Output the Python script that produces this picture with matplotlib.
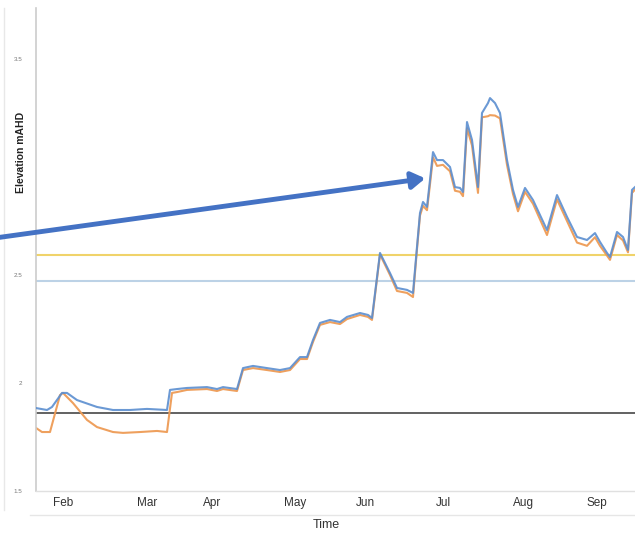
import matplotlib
matplotlib.use("Agg")
import matplotlib.pyplot as plt
from matplotlib.lines import Line2D
from matplotlib.patches import FancyArrowPatch

# ---- data (day index from start of record, elevation mAHD) ----
blue_days = [0, 4.4, 6.4, 10.4, 12.4, 16.4, 24.4, 30.8, 37.6, 44.4, 52.4, 53.6, 56.4,
             60.4, 68.4, 72.4, 74.8, 80.4, 82.8, 86.8, 92.4, 97.6, 101.6, 105.6, 108.4,
             110.8, 113.6, 117.6, 121.6, 124.4, 129.6, 132.8, 134.4, 137.6, 141.6, 144.4,
             148.4, 150.8, 152.4, 153.6, 154.8, 156.4, 157.6, 158.8, 160.4, 162.8, 165.6,
             167.6, 169.6, 170.8, 172.4, 174.4, 176.8, 178.4, 180.8, 181.6, 183.6, 185.6,
             188.4, 190.8, 192.8, 195.6, 198.8, 204.4, 208.4, 212.4, 216.4, 220.4, 223.6,
             225.6, 228.4, 229.6, 232.4, 234.8, 236.8, 238.4, 239.6]
blue_vals = [1.884, 1.875, 1.889, 1.954, 1.954, 1.921, 1.889, 1.875, 1.875, 1.880, 1.875, 1.968, 1.972,
             1.977, 1.981, 1.972, 1.981, 1.972, 2.069, 2.079, 2.069, 2.060, 2.069, 2.120, 2.120,
             2.199, 2.278, 2.292, 2.282, 2.306, 2.324, 2.315, 2.301, 2.602, 2.509, 2.440,
             2.431, 2.417, 2.630, 2.787, 2.838, 2.815, 2.940, 3.069, 3.032, 3.032, 3.000,
             2.907, 2.903, 2.884, 3.208, 3.125, 2.907, 3.250, 3.296, 3.319, 3.296, 3.250,
             3.032, 2.894, 2.815, 2.903, 2.847, 2.708, 2.870, 2.769, 2.676, 2.662, 2.694,
             2.653, 2.602, 2.583, 2.699, 2.676, 2.616, 2.894, 2.907]

orange_days = [0, 2.4, 5.6, 9.6, 10.8, 14.8, 20.4, 24.4, 30.8, 34.8, 41.6, 48.4, 52.4, 54.4, 56.4,
               60.4, 68.4, 72.4, 74.8, 80.4, 82.8, 86.8, 92.4, 97.6, 101.6, 105.6, 108.4,
               110.8, 113.6, 117.6, 121.6, 124.4, 129.6, 132.8, 134.4, 137.6, 141.6, 144.4,
               148.4, 150.8, 152.4, 153.6, 154.8, 156.4, 157.6, 158.8, 160.4, 162.8, 165.6,
               167.6, 169.6, 170.8, 172.4, 174.4, 176.8, 178.4, 180.8, 181.6, 183.6, 185.6,
               188.4, 190.8, 192.8, 195.6, 198.8, 204.4, 208.4, 212.4, 216.4, 220.4, 223.6,
               225.6, 228.4, 229.6, 232.4, 234.8, 236.8, 238.4, 239.6]
orange_vals = [1.792, 1.773, 1.773, 1.944, 1.954, 1.907, 1.829, 1.796, 1.773, 1.769, 1.773, 1.778, 1.773, 1.954, 1.958,
               1.968, 1.972, 1.963, 1.972, 1.963, 2.060, 2.069, 2.060, 2.051, 2.060, 2.111, 2.111,
               2.190, 2.269, 2.282, 2.273, 2.296, 2.315, 2.306, 2.292, 2.595, 2.500, 2.426,
               2.417, 2.398, 2.620, 2.775, 2.820, 2.800, 2.920, 3.045, 3.005, 3.010, 2.980,
               2.890, 2.885, 2.865, 3.180, 3.100, 2.880, 3.230, 3.235, 3.240, 3.238, 3.225,
               3.010, 2.875, 2.795, 2.885, 2.830, 2.685, 2.850, 2.750, 2.650, 2.635, 2.675,
               2.635, 2.590, 2.570, 2.685, 2.660, 2.605, 2.880, 2.895]

yellow_level = 2.593
lightblue_level = 2.472
dark_level = 1.861

month_labels = ["Feb", "Mar", "Apr", "May", "Jun", "Jul", "Aug", "Sep"]
month_pos = [10.8, 44.4, 70.4, 103.6, 131.6, 162.8, 194.8, 224.4]
ytick_vals = [1.5, 2, 2.5, 3.5]
ytick_labels = ["1.5", "2", "2.5", "3.5"]

plt.rcParams['font.family'] = ['Liberation Sans', 'DejaVu Sans']

W, H = 635, 533
fig = plt.figure(figsize=(W / 100, H / 100), dpi=100)
ax = fig.add_axes([36 / W, 1 - 491 / H, 1 - 36 / W, (491 - 8) / H])

ax.axhline(yellow_level, color="#f0d36a", lw=1.5, zorder=1)
ax.axhline(lightblue_level, color="#bcd2e6", lw=1.5, zorder=1)
ax.axhline(dark_level, color="#555555", lw=1.3, zorder=1)

ax.plot(orange_days, orange_vals, color="#ee9b55", lw=1.5, zorder=2, alpha=0.95,
        solid_joinstyle="round")
ax.plot(blue_days, blue_vals, color="#5b8ed0", lw=1.5, zorder=3, alpha=0.9,
        solid_joinstyle="round")

ax.set_xlim(0, 239.6)
ax.set_ylim(1.5, 3.736)

ax.set_yticks(ytick_vals)
ax.set_yticklabels(ytick_labels, fontsize=4.5, color="#777777")
ax.set_xticks(month_pos)
ax.set_xticklabels(month_labels, fontsize=8.5, color="#333333")
ax.tick_params(axis="both", length=0)
ax.tick_params(axis="y", pad=10)
ax.tick_params(axis="x", pad=4)

for s in ["top", "right"]:
    ax.spines[s].set_visible(False)
ax.spines["left"].set_color("#cccccc")
ax.spines["bottom"].set_color("#e0e0e0")
ax.spines["left"].set_linewidth(1.2)
ax.spines["bottom"].set_linewidth(1.0)

ax.set_ylabel("Elevation mAHD", fontsize=7.5, fontweight="bold", color="#222222")
ax.yaxis.set_label_coords(-0.017, 0.70)
ax.set_xlabel("Time", fontsize=9, color="#333333")
ax.xaxis.set_label_coords(0.484, -0.057)

# lower rule beneath month labels and faint left edge line
fig.add_artist(Line2D([30 / W, 1], [1 - 515 / H, 1 - 515 / H], color="#e6e6e6", lw=1.0))
fig.add_artist(Line2D([4 / W, 4 / W], [1 - 510 / H, 1 - 8 / H], color="#e8e8e8", lw=1.0))

# annotation arrow
arrow = FancyArrowPatch((-5, H - 238), (428, H - 178), transform=None,
                        arrowstyle="-|>,head_length=8,head_width=5",
                        color="#4472c4", lw=3.5, mutation_scale=1, zorder=10)
fig.add_artist(arrow)

fig.savefig("out.png", dpi=100)
